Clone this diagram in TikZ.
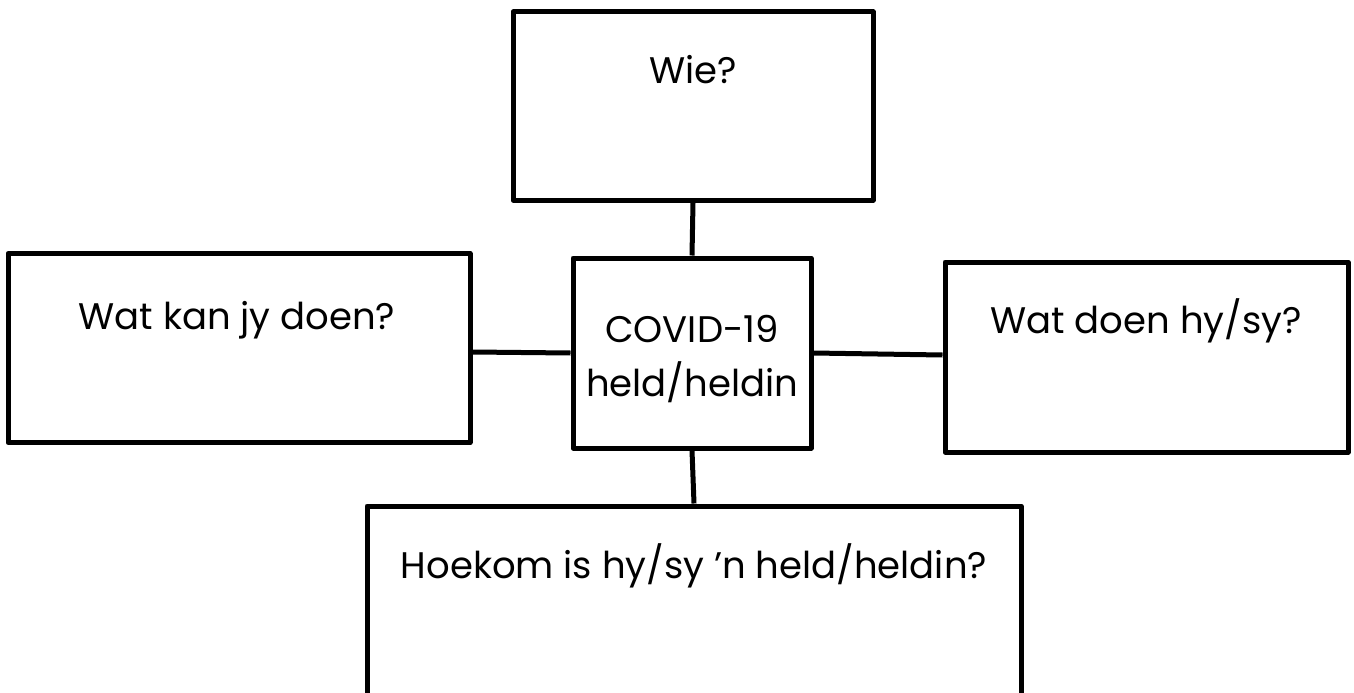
\documentclass[tikz,border=0pt]{standalone}
\usepackage{fontspec}
\setmainfont{Poppins}
\begin{document}
\begin{tikzpicture}[x=1pt,y=-1pt,
  box/.style={draw=black,line width=5pt,line join=round,rectangle,inner sep=0pt},
  lbl/.style={anchor=base,inner sep=0pt,font=\fontsize{37}{44}\selectfont},
  link/.style={draw=black,line width=5pt}]
\useasboundingbox (0,0) rectangle (1354,693);
\clip (0,0) rectangle (1354,693);
\node[box,minimum width=360pt,minimum height=188pt] (T) at (693,106) {};
\node[box,minimum width=462pt,minimum height=189pt] (L) at (239,348) {};
\node[box,minimum width=238pt,minimum height=190pt] (C) at (692,353) {};
\node[box,minimum width=403pt,minimum height=190pt] (R) at (1146.5,357) {};
\node[box,minimum width=654pt,minimum height=200pt] (B) at (694,606) {};
\node[lbl] (tT) at (693,84) {Wie?};
\node[lbl] (tL) at (237,329) {Wat kan jy doen?};
\node[lbl] (tC1) at (692,342) {COVID-19};
\node[lbl] (tC2) at (692,396) {held/heldin};
\node[lbl] (tR) at (1146,333) {Wat doen hy/sy?};
\node[lbl] (tB) at (694,578) {Hoekom is hy/sy ’n held/heldin?};
\draw[link] ([yshift=-4pt]L.east) -- (C.west);
\draw[link] (T.south) -- (C.north);
\draw[link] (C.east) -- ([yshift=2pt]R.west);
\draw[link] (C.south) -- (B.north);
\end{tikzpicture}
\end{document}
